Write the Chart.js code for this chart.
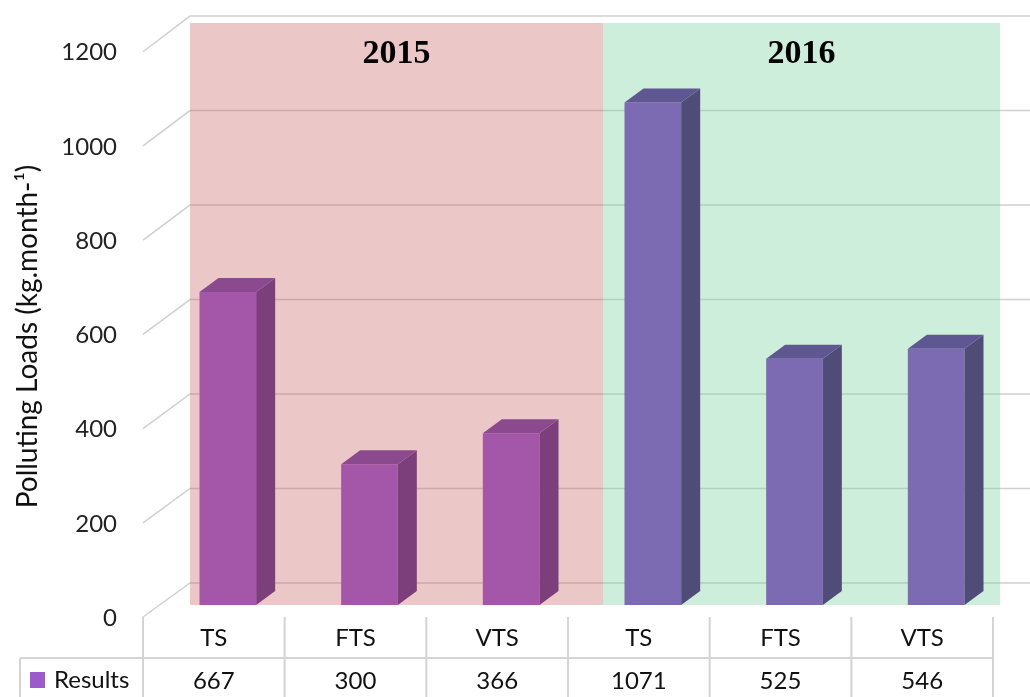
<!DOCTYPE html>
<html>
<head>
<meta charset="utf-8">
<script src="https://cdn.jsdelivr.net/npm/chart.js@4"></script>
<style>
  html, body { margin: 0; padding: 0; background: #fff; }
  canvas { display: block; }
</style>
</head>
<body>
<canvas id="loadsChart" width="1030" height="697"></canvas>
<script>
// chart data
const categories = ['TS', 'FTS', 'VTS', 'TS', 'FTS', 'VTS'];
const years = ['2015', '2016'];
const results = [667, 300, 366, 1071, 525, 546];
const yTicks = [0, 200, 400, 600, 800, 1000, 1200];
const seriesName = 'Results';

const FONT = 'Lato, "Open Sans", sans-serif';
const frontColors = ['#a456a8', '#a456a8', '#a456a8', '#7c6bb2', '#7c6bb2', '#7c6bb2'];
const sideColors = ['#7c3f7c', '#7c3f7c', '#7c3f7c', '#4f4c77', '#4f4c77', '#4f4c77'];
const topColors = ['#8b4a8d', '#8b4a8d', '#8b4a8d', '#5f5791', '#5f5791', '#5f5791'];

const DEPTH_X = 19, DEPTH_Y = 14;

function backY(ca, y) { return ca.bottom - 22 - (ca.bottom - y) * 1.007; }
function frontY(ca, y) { return ca.bottom + 12 - (ca.bottom - y) * 1.004; }

const decor = {
    id: 'decor',
    beforeDatasetsDraw(chart) {
        const ctx = chart.ctx, ca = chart.chartArea;
        const ys = chart.scales.y, xs = chart.scales.x;
        const step = xs.getPixelForValue(1) - xs.getPixelForValue(0);
        const wallLeft = ca.left + 33;
        const split = xs.getPixelForValue(2) + step / 2 + 21;
        const wallRight = ca.right - 7;

        ctx.save();
        // gridlines (front edge -> back wall)
        ctx.strokeStyle = '#d0d0d0';
        ctx.lineWidth = 1.5;
        yTicks.forEach(v => {
            const y = ys.getPixelForValue(v);
            ctx.beginPath();
            ctx.moveTo(ca.left - 14, frontY(ca, y));
            ctx.lineTo(wallLeft, backY(ca, y));
            ctx.lineTo(chart.width, backY(ca, y));
            ctx.stroke();
        });

        // year panels
        const top = ca.top - 19;
        ctx.fillStyle = 'rgba(200, 100, 100, 0.36)';
        ctx.fillRect(wallLeft, top, split - wallLeft, ca.bottom - top);
        ctx.fillStyle = 'rgba(120, 210, 160, 0.38)';
        ctx.fillRect(split, top, wallRight - split, ca.bottom - top);

        ctx.fillStyle = '#000';
        ctx.font = 'bold 34px "Liberation Serif", serif';
        ctx.textAlign = 'center';
        ctx.textBaseline = 'middle';
        ctx.fillText(years[0], (wallLeft + split) / 2, ca.top + 12);
        ctx.fillText(years[1], (split + wallRight) / 2, ca.top + 12);

        // y tick labels
        ctx.font = '24px ' + FONT;
        ctx.fillStyle = '#222';
        ctx.textAlign = 'right';
        yTicks.forEach(v => {
            const y = ys.getPixelForValue(v);
            ctx.fillText(String(v), ca.left - 40, frontY(ca, y) + 1);
        });

        // y title
        ctx.translate(28, (ca.top + ca.bottom) / 2 + 13);
        ctx.rotate(-Math.PI / 2);
        ctx.textAlign = 'center';
        ctx.font = '28px ' + FONT;
        ctx.fillStyle = '#111';
        ctx.fillText('Polluting Loads (kg.month-¹)', 0, 0);
        ctx.restore();
    },
    afterDatasetsDraw(chart) {
        const ctx = chart.ctx;
        const meta = chart.getDatasetMeta(0);
        ctx.save();
        meta.data.forEach((bar, i) => {
            const p = bar.getProps(['x', 'y', 'base', 'width'], true);
            const l = p.x - p.width / 2, r = p.x + p.width / 2;
            // side
            ctx.fillStyle = sideColors[i];
            ctx.beginPath();
            ctx.moveTo(r, p.y);
            ctx.lineTo(r + DEPTH_X, p.y - DEPTH_Y);
            ctx.lineTo(r + DEPTH_X, p.base - DEPTH_Y);
            ctx.lineTo(r, p.base);
            ctx.closePath();
            ctx.fill();
            // top
            ctx.fillStyle = topColors[i];
            ctx.beginPath();
            ctx.moveTo(l, p.y);
            ctx.lineTo(l + DEPTH_X, p.y - DEPTH_Y);
            ctx.lineTo(r + DEPTH_X, p.y - DEPTH_Y);
            ctx.lineTo(r, p.y);
            ctx.closePath();
            ctx.fill();
        });
        ctx.restore();
    },
    afterDraw(chart) {
        // data table under the plot
        const ctx = chart.ctx, ca = chart.chartArea;
        const xs = chart.scales.x;
        const step = xs.getPixelForValue(1) - xs.getPixelForValue(0);
        const tableTop = ca.bottom + 12;
        const rowLine = ca.bottom + 53;
        const bottom = chart.height;
        const left0 = xs.getPixelForValue(0) - 14 - step / 2;
        ctx.save();
        ctx.strokeStyle = '#d4d4d4';
        ctx.lineWidth = 2;
        ctx.beginPath();
        ctx.moveTo(20, rowLine);
        ctx.lineTo(left0 + step * categories.length, rowLine);
        ctx.moveTo(20, rowLine);
        ctx.lineTo(20, bottom);
        for (let i = 0; i <= categories.length; i++) {
            const x = left0 + step * i;
            ctx.moveTo(x, tableTop);
            ctx.lineTo(x, bottom);
        }
        ctx.stroke();

        ctx.fillStyle = '#111';
        ctx.font = '24px ' + FONT;
        ctx.textAlign = 'center';
        ctx.textBaseline = 'middle';
        categories.forEach((c, i) => {
            const cx = left0 + step * (i + 0.5);
            ctx.fillText(c, cx, ca.bottom + 33);
            ctx.fillText(String(results[i]), cx, ca.bottom + 76);
        });
        // legend key
        ctx.fillStyle = '#9b5bcc';
        ctx.fillRect(30, ca.bottom + 67, 15, 16);
        ctx.fillStyle = '#111';
        ctx.textAlign = 'left';
        ctx.fillText(seriesName, 54, ca.bottom + 75);
        ctx.restore();
    }
};

new Chart(document.getElementById('loadsChart'), {
    type: 'bar',
    data: {
        labels: categories,
        datasets: [{
            label: seriesName,
            data: results,
            backgroundColor: frontColors,
            borderWidth: 0,
            barPercentage: 0.4,
            categoryPercentage: 1
        }]
    },
    options: {
        responsive: false,
        devicePixelRatio: 1,
        animation: false,
        layout: { padding: { left: 157, right: 23, top: 42, bottom: 92 } },
        plugins: {
            legend: { display: false },
            tooltip: { enabled: false }
        },
        scales: {
            x: { display: false },
            y: { display: false, min: 0, max: 1200, ticks: { stepSize: 200 } }
        }
    },
    plugins: [decor]
});
</script>
</body>
</html>
